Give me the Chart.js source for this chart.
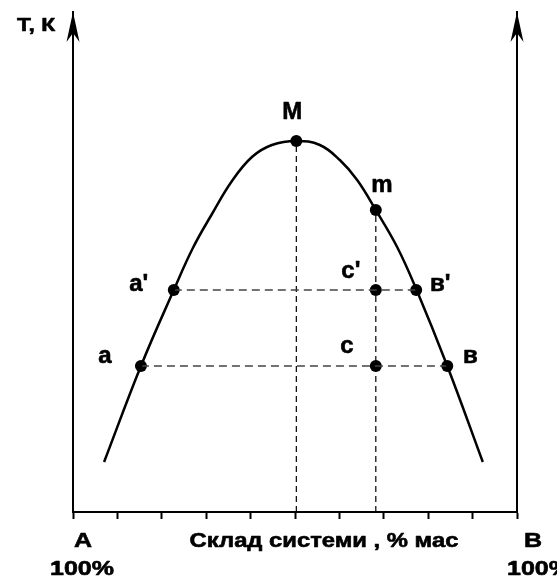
<!DOCTYPE html>
<html>
<head>
<meta charset="utf-8">
<script src="https://cdn.jsdelivr.net/npm/chart.js@4"></script>
<style>
  body { margin: 0; background: #fff; }
  #wrap { width: 557px; height: 580px; }
</style>
</head>
<body>
<div id="wrap"><canvas id="diagram"></canvas></div>
<script>
// liquidus-like dome: composition (% B) vs temperature (arbitrary units)
const curveX = [7, 15.3, 22.7, 27.0, 31.3, 35.8, 40.3, 44.8, 50.3, 55.6, 60.1, 64.0, 68.2, 73.0, 77.3, 84.3, 92.3];
const curveT = [10, 29.2, 44.4, 52.8, 59.6, 66.2, 71.0, 73.4, 74.2, 73.4, 70.4, 66.4, 60.4, 53.0, 44.6, 29.2, 10];

// marked points
const pointNames = ['а', "а'", 'М', 'm', "с'", "в'", 'с', 'в'];
const pointX = [15.3, 22.7, 50.3, 68.2, 68.2, 77.3, 68.2, 84.3];
const pointT = [29.2, 44.4, 74.2, 60.4, 44.4, 44.4, 29.2, 29.2];

// dashed construction lines
const tieLow = { x: [15.3, 84.3], t: [29.2, 29.2] };
const tieHigh = { x: [22.7, 77.3], t: [44.4, 44.4] };
const dropM = { x: [50.3, 50.3], t: [0, 74.2] };
const dropC = { x: [68.2, 68.2], t: [0, 60.4] };

const xTicks = [0, 10, 20, 30, 40, 50, 60, 70, 80, 90, 100];

const toXY = (xs, ys) => xs.map((x, i) => ({ x: x, y: ys[i] }));

// label offsets in px (x centre, baseline) relative to point
const labelOffsets = [[-36, -3], [-35, 1], [-4, -22], [6, -18], [-25, -12], [24, 1], [-29, -13], [23, -3]];

const FONT = '"Liberation Sans", Arial, sans-serif';

function wideText(ctx, text, x, y, size, align, stretch) {
    ctx.save();
    ctx.font = 'bold ' + size + 'px ' + FONT;
    ctx.textBaseline = 'alphabetic';
    const w = ctx.measureText(text).width * stretch;
    let left = x;
    if (align === 'center') left = x - w / 2;
    if (align === 'right') left = x - w;
    ctx.translate(left, y);
    ctx.scale(stretch, 1);
    ctx.textAlign = 'left';
    ctx.fillStyle = '#000';
    ctx.strokeStyle = '#000';
    ctx.lineWidth = 0.6;
    ctx.lineJoin = 'round';
    ctx.fillText(text, 0, 0);
    ctx.strokeText(text, 0, 0);
    ctx.restore();
}

function arrowHead(ctx, x, top) {
    ctx.save();
    ctx.fillStyle = '#000';
    ctx.beginPath();
    ctx.moveTo(x, top);
    ctx.lineTo(x + 6.5, top + 30);
    ctx.lineTo(x, top + 21);
    ctx.lineTo(x - 6.5, top + 30);
    ctx.closePath();
    ctx.fill();
    ctx.restore();
}

const decorations = {
    id: 'decorations',
    afterDraw(chart) {
        const ctx = chart.ctx;
        const area = chart.chartArea;
        const xs = chart.scales.x, ys = chart.scales.y;

        arrowHead(ctx, area.left, area.top);
        arrowHead(ctx, area.right, area.top);

        pointNames.forEach((name, i) => {
            const px = xs.getPixelForValue(pointX[i]) + labelOffsets[i][0];
            const py = ys.getPixelForValue(pointT[i]) + labelOffsets[i][1];
            wideText(ctx, name, px, py, 24, 'center', 1.0);
        });

        wideText(ctx, 'Т, К', 36, 31, 19, 'center', 1.2);
        wideText(ctx, 'А', area.left + 10, 547, 20, 'center', 1.25);
        wideText(ctx, 'В', area.right + 16, 547, 20, 'center', 1.25);
        wideText(ctx, 'Склад системи , % мас', 324, 547, 20, 'center', 1.19);
        wideText(ctx, '100%', 82, 575, 20, 'center', 1.25);
        wideText(ctx, '100%', 507, 575, 20, 'left', 1.25);
    }
};

const hiddenY = (pos) => ({
    type: 'linear',
    position: pos,
    min: 0,
    max: 100,
    ticks: { display: false },
    grid: { display: false, drawTicks: false },
    border: { display: true, color: '#000', width: 2 },
    afterFit: s => { s.width = 0; }
});

new Chart(document.getElementById('diagram'), {
    type: 'line',
    data: {
        datasets: [
            {
                data: toXY(curveX, curveT),
                borderColor: '#000',
                borderWidth: 2.5,
                pointRadius: 0,
                tension: 0.4,
                fill: false
            },
            {
                data: toXY(tieLow.x, tieLow.t),
                borderColor: '#444',
                borderWidth: 1.3,
                borderDash: [8, 5],
                pointRadius: 0
            },
            {
                data: toXY(tieHigh.x, tieHigh.t),
                borderColor: '#444',
                borderWidth: 1.3,
                borderDash: [8, 5],
                pointRadius: 0
            },
            {
                data: toXY(dropM.x, dropM.t),
                borderColor: '#000',
                borderWidth: 1.2,
                borderDash: [6, 4],
                pointRadius: 0
            },
            {
                data: toXY(dropC.x, dropC.t),
                borderColor: '#000',
                borderWidth: 1.2,
                borderDash: [6, 4],
                pointRadius: 0
            },
            {
                data: toXY(pointX, pointT),
                showLine: false,
                pointRadius: 6,
                pointBackgroundColor: '#000',
                pointBorderColor: '#000',
                pointBorderWidth: 0
            }
        ]
    },
    options: {
        responsive: true,
        maintainAspectRatio: false,
        animation: false,
        events: [],
        layout: { padding: { left: 73, right: 40, top: 12, bottom: 61 } },
        plugins: { legend: { display: false }, tooltip: { enabled: false } },
        scales: {
            x: {
                type: 'linear',
                min: 0,
                max: 100,
                afterBuildTicks: s => { s.ticks = xTicks.map(v => ({ value: v })); },
                ticks: { display: false },
                grid: { drawOnChartArea: false, drawTicks: true, tickLength: 7, tickWidth: 2, tickColor: '#000' },
                border: { display: true, color: '#000', width: 2 },
                afterFit: s => { s.height = 7; }
            },
            y: hiddenY('left'),
            y2: hiddenY('right')
        }
    },
    plugins: [decorations]
});
</script>
</body>
</html>
